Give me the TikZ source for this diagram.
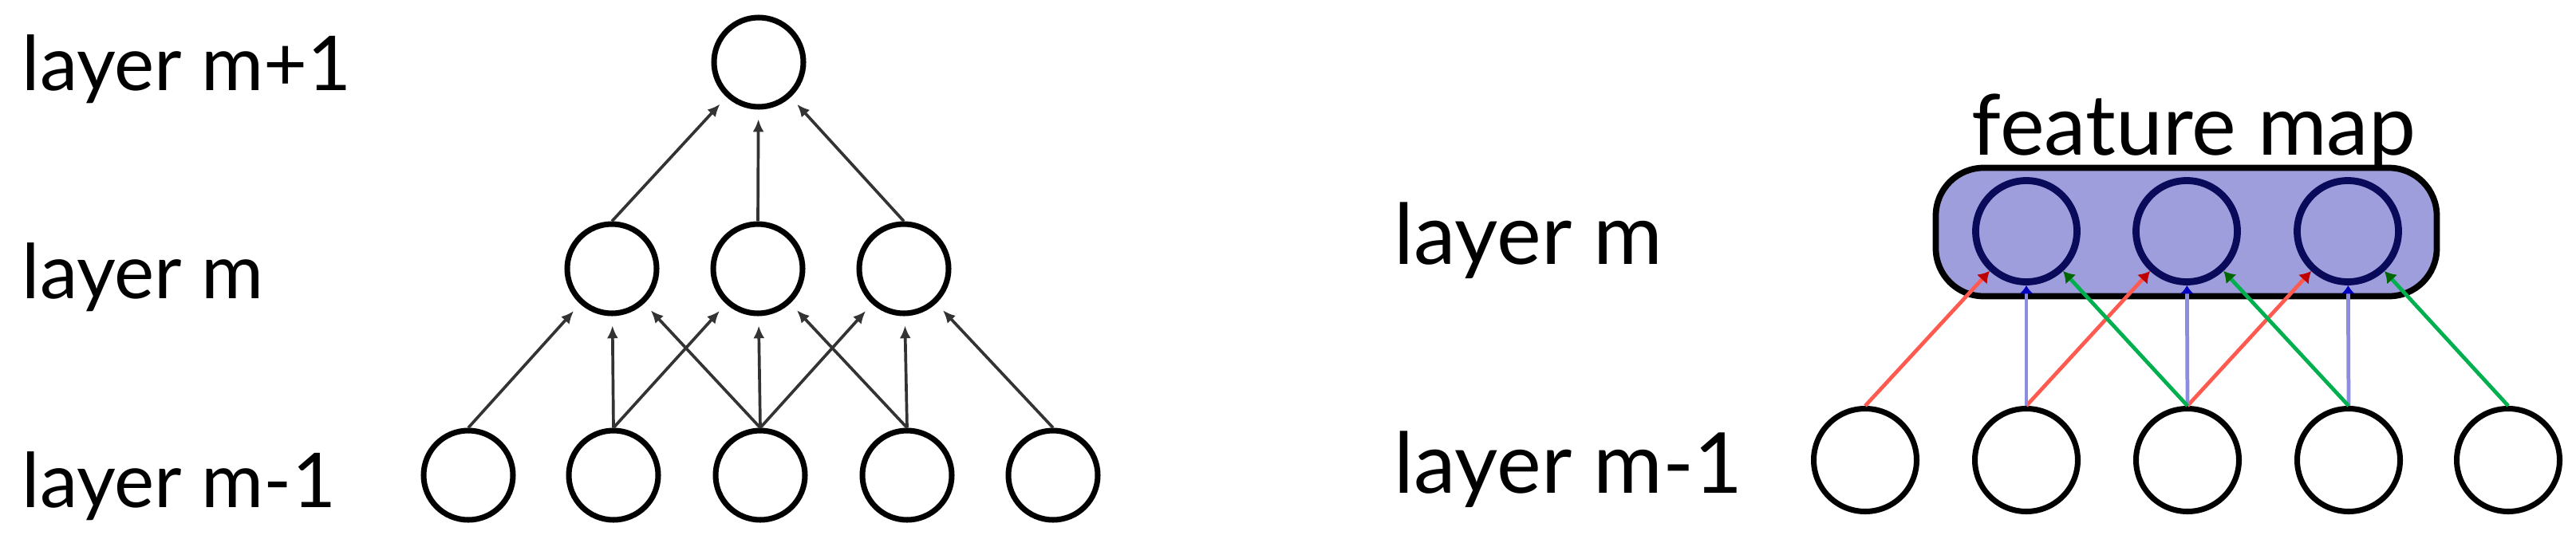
\documentclass[tikz,border=0pt]{standalone}
\usepackage{fontspec}
\setmainfont{Lato}
\usetikzlibrary{arrows.meta}
\definecolor{fmfill}{HTML}{9F9EDC}
\definecolor{fmring}{HTML}{0A0A5A}
\definecolor{wred}{HTML}{FF5A50}
\definecolor{wblue}{HTML}{8C8CE0}
\definecolor{wgreen}{HTML}{00B04F}
\begin{document}
\begin{tikzpicture}[
        unit/.style={circle, draw, line width=2pt, minimum size=1.12cm, inner sep=0pt},
        fmunit/.style={circle, draw=fmring, line width=2.5pt, minimum size=1.27cm, inner sep=0pt},
        runit/.style={circle, draw, line width=2pt, minimum size=1.29cm, inner sep=0pt},
        fmapbox/.style={rectangle, draw, line width=2.2pt, fill=fmfill, rounded corners=0.6cm, minimum width=6.28cm, minimum height=1.61cm},
        layerlabel/.style={anchor=base west, inner sep=0pt, font=\fontsize{27}{32}\selectfont},
        biglabel/.style={anchor=base west, inner sep=0pt, font=\fontsize{30}{36}\selectfont},
        edge/.style={draw=black!80, line width=1.05pt, shorten >=3.4pt, -{Latex[length=4.5pt,width=4pt]}},
        redge/.style={draw=wred, line width=1.35pt, -{Latex[length=4pt,width=5pt,color=red!75!black]}},
        bedge/.style={draw=wblue, line width=1.35pt, -{Latex[length=3pt,width=5pt,color=blue!75!black]}},
        gedge/.style={draw=wgreen, line width=1.35pt, -{Latex[length=4pt,width=5pt,color=green!40!black]}}
    ]
        \useasboundingbox (0,0) rectangle (32.29,-6.75);

        % Left: fully connected view
        \node[unit] (top) at (9.51,-0.78) {};
        \node[unit] (mid1) at (7.67,-3.37) {};
        \node[unit] (mid2) at (9.50,-3.37) {};
        \node[unit] (mid3) at (11.33,-3.37) {};
        \node[unit] (low1) at (5.87,-5.96) {};
        \node[unit] (low2) at (7.69,-5.96) {};
        \node[unit] (low3) at (9.53,-5.96) {};
        \node[unit] (low4) at (11.37,-5.96) {};
        \node[unit] (low5) at (13.20,-5.96) {};

        \draw[edge] (mid1.north) -- (top);
        \draw[edge] (mid2.north) -- (top);
        \draw[edge] (mid3.north) -- (top);
        \draw[edge] (low1.north) -- (mid1);
        \draw[edge] (low2.north) -- (mid1);
        \draw[edge] (low3.north) -- (mid1);
        \draw[edge] (low2.north) -- (mid2);
        \draw[edge] (low3.north) -- (mid2);
        \draw[edge] (low4.north) -- (mid2);
        \draw[edge] (low3.north) -- (mid3);
        \draw[edge] (low4.north) -- (mid3);
        \draw[edge] (low5.north) -- (mid3);

        \node[layerlabel] (lab_top) at (0.27,-1.13) {layer m+1};
        \node[layerlabel] (lab_mid) at (0.27,-3.745) {layer m};
        \node[layerlabel] (lab_low) at (0.27,-6.36) {layer m-1};

        % Right: shared weights in one feature map
        \node[fmapbox] (fmap) at (27.405,-2.91) {};
        \node[fmunit] (fm1) at (25.40,-2.90) {};
        \node[fmunit] (fm2) at (27.41,-2.90) {};
        \node[fmunit] (fm3) at (29.43,-2.90) {};
        \node[runit] (rlow1) at (23.38,-5.77) {};
        \node[runit] (rlow2) at (25.40,-5.77) {};
        \node[runit] (rlow3) at (27.42,-5.77) {};
        \node[runit] (rlow4) at (29.44,-5.77) {};
        \node[runit] (rlow5) at (31.44,-5.77) {};

        \draw[redge] (rlow1.north) -- (fm1);
        \draw[redge] (rlow2.north) -- (fm2);
        \draw[redge] (rlow3.north) -- (fm3);
        \draw[bedge] (rlow2.north) -- (fm1);
        \draw[bedge] (rlow3.north) -- (fm2);
        \draw[bedge] (rlow4.north) -- (fm3);
        \draw[gedge] (rlow3.north) -- (fm1);
        \draw[gedge] (rlow4.north) -- (fm2);
        \draw[gedge] (rlow5.north) -- (fm3);

        \node[biglabel, anchor=base] (fm_label) at (27.50,-1.94) {feature map};
        \node[biglabel] (rlab_mid) at (17.47,-3.31) {layer m};
        \node[biglabel] (rlab_low) at (17.47,-6.18) {layer m-1};

    \end{tikzpicture}
\end{document}
